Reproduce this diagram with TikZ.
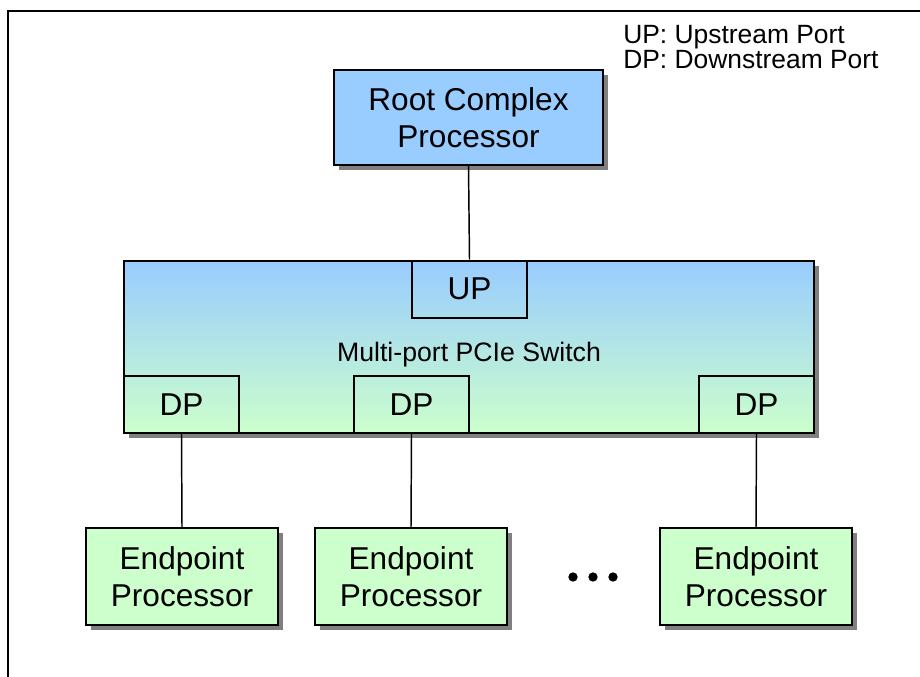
\documentclass[tikz,border=0pt]{standalone}
\usepackage{fontspec}
\setmainfont{Liberation Sans}
\usetikzlibrary{shadows}
\definecolor{rootblue}{HTML}{99CCFF}
\definecolor{epgreen}{HTML}{CCFFCC}
\definecolor{shadowgray}{HTML}{808080}
\newcommand\mylegendfont{\fontsize{19.8}{18.9}\selectfont\lineskiplimit=-100pt\relax}
\begin{document}
\begin{tikzpicture}[x=0.75pt,y=-0.75pt,
  boxshadow/.style={drop shadow={shadow xshift=3.75pt,shadow yshift=-3.75pt,fill=shadowgray,opacity=1}},
  bigbox/.style={draw=black,line width=1.5pt,inner sep=0pt,align=center,
     font=\fontsize{23.7}{27.75}\selectfont,boxshadow},
  rootbox/.style={bigbox,fill=rootblue,minimum width=201.75pt,minimum height=71.25pt},
  epbox/.style={bigbox,fill=epgreen,minimum width=144pt,minimum height=72.75pt},
  switchbox/.style={draw=black,line width=1.5pt,inner sep=0pt,top color=rootblue,bottom color=epgreen,
     minimum width=517.5pt,minimum height=129pt,boxshadow},
  portbox/.style={draw=black,line width=1.5pt,inner sep=0pt,minimum width=86.25pt,minimum height=42.75pt,
     font=\fontsize{23.7}{27.75}\selectfont},
  link/.style={draw=black,line width=1.1pt},
  legend/.style={anchor=base west,inner sep=0pt,align=left,font=\mylegendfont}]
\useasboundingbox (0,0) rectangle (920,677);
\fill[white] (0,0) rectangle (920,677);
\draw[line width=1.6pt] (8,677) -- (8,11) -- (920,11);

\node[legend] (lg) at (623,69) {UP: Upstream Port\\DP: Downstream Port};

\node[rootbox] (root) at (468.5,117.5) {Root Complex\\Processor};

\node[switchbox] (sw) at (469,347) {};
\node[inner sep=0pt,font=\fontsize{20}{24}\selectfont] (swlabel) at (469,355) {Multi-port PCIe Switch};
\node[portbox] (up) at (469.5,289) {UP};
\node[portbox] (dp1) at (181.5,404.5) {DP};
\node[portbox] (dp2) at (411.5,404.5) {DP};
\node[portbox] (dp3) at (756.5,404.5) {DP};

\node[epbox] (ep1) at (182,576.5) {Endpoint\\Processor};
\node[epbox] (ep2) at (411,576.5) {Endpoint\\Processor};
\node[epbox] (ep3) at (756,576.5) {Endpoint\\Processor};

\fill (573,577) circle (3.5pt) (593,577) circle (3.5pt) (613,577) circle (3.5pt);

\draw[link] (root.south) -- (up.north);
\draw[link] (dp1.south) -- (ep1.north);
\draw[link] (dp2.south) -- (ep2.north);
\draw[link] (dp3.south) -- (ep3.north);
\end{tikzpicture}
\end{document}
